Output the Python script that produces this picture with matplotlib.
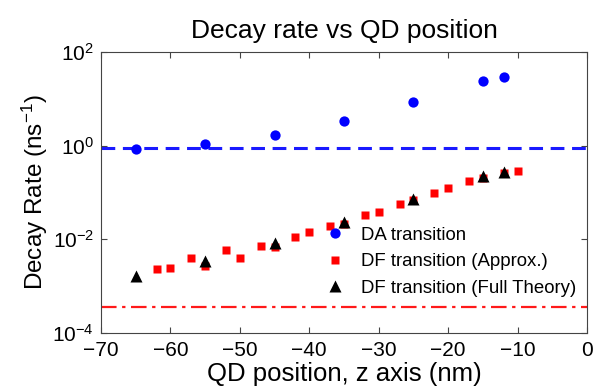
# Decay rate vs QD position (log scale)

import matplotlib.pyplot as plt
import numpy as np

plt.rcParams['font.family'] = ['Liberation Sans', 'DejaVu Sans']
plt.rcParams['mathtext.fontset'] = 'custom'
plt.rcParams['mathtext.rm'] = 'Liberation Sans'
plt.rcParams['mathtext.it'] = 'Liberation Sans:italic'

# DA transition (circles)
z_da = [-65, -55, -45, -35, -25, -15, -12]
rate_da = [0.85, 1.07, 1.7, 3.4, 8.4, 23.7, 29.0]

# DF transition, approximate model (squares)
z_df_approx = [-62, -60, -57, -55, -52, -50, -47, -45, -42, -40, -37, -35,
               -32, -30, -27, -25, -22, -20, -17, -15, -12, -10]
rate_df_approx = [2.27e-3, 2.5e-3, 3.9e-3, 2.67e-3, 5.9e-3, 3.9e-3, 7.3e-3, 6.9e-3,
                  1.13e-2, 1.43e-2, 1.91e-2, 2.1e-2, 3.3e-2, 3.8e-2, 5.6e-2, 6.8e-2,
                  9.9e-2, 0.124, 0.173, 0.20, 0.264, 0.286]

# DF transition, full theory (triangles)
z_df_full = [-65, -55, -45, -35, -25, -15, -12]
rate_df_full = [1.64e-3, 3.5e-3, 8.2e-3, 2.37e-2, 7.2e-2, 0.224, 0.28]

# reference levels
da_level = 0.9
df_level = 3.6e-4

fig = plt.figure(figsize=(6.06, 3.86), dpi=100)
ax = fig.add_axes([0.1667, 0.1373, 0.802, 0.728])

ax.axhline(da_level, color="#1a1aff", lw=2.2, ls=(0, (4.5, 2.5)))
ax.axhline(df_level, color="#ff1a1a", lw=1.6, ls=(0, (7, 2.5, 1.5, 2.5)))

ax.plot(z_da, rate_da, 'o', color="#0000ff", ms=7.4, mec="none", label="DA transition")
ax.plot(z_df_approx, rate_df_approx, 's', color="#ff0000", ms=5.8, mec="none",
        label="DF transition (Approx.)")
ax.plot(z_df_full, rate_df_full, '^', color="black", ms=8, mec="none",
        label="DF transition (Full Theory)")

ax.set_yscale("log")
ax.set_xlim([-70, 0])
ax.set_ylim([1e-4, 1e2])
ax.set_yticks([1e-4, 1e-2, 1e0, 1e2])
ax.yaxis.set_minor_locator(plt.NullLocator())
ax.set_xticks(np.arange(-70, 1, 10))
ax.tick_params(direction="in", top=True, right=True, labelsize=15, length=4,
               color="#444444")
ax.tick_params(axis="x", pad=6)
ax.tick_params(axis="y", pad=5)
for s in ax.spines.values():
    s.set_color("#444444")

ax.set_xlabel("QD position, z axis (nm)", fontsize=18.5, labelpad=1)
ax.set_ylabel("Decay Rate (ns$^{-1}$)", fontsize=17.5, labelpad=2)
ax.set_title("Decay rate vs QD position", fontsize=19, pad=10)

ax.legend(loc="lower right", bbox_to_anchor=(1.0, 0.09), frameon=False,
          fontsize=13.4, handletextpad=0.35, labelspacing=0.5, borderaxespad=0.2,
          handlelength=2.0)

fig.savefig("out.png", dpi=100)
